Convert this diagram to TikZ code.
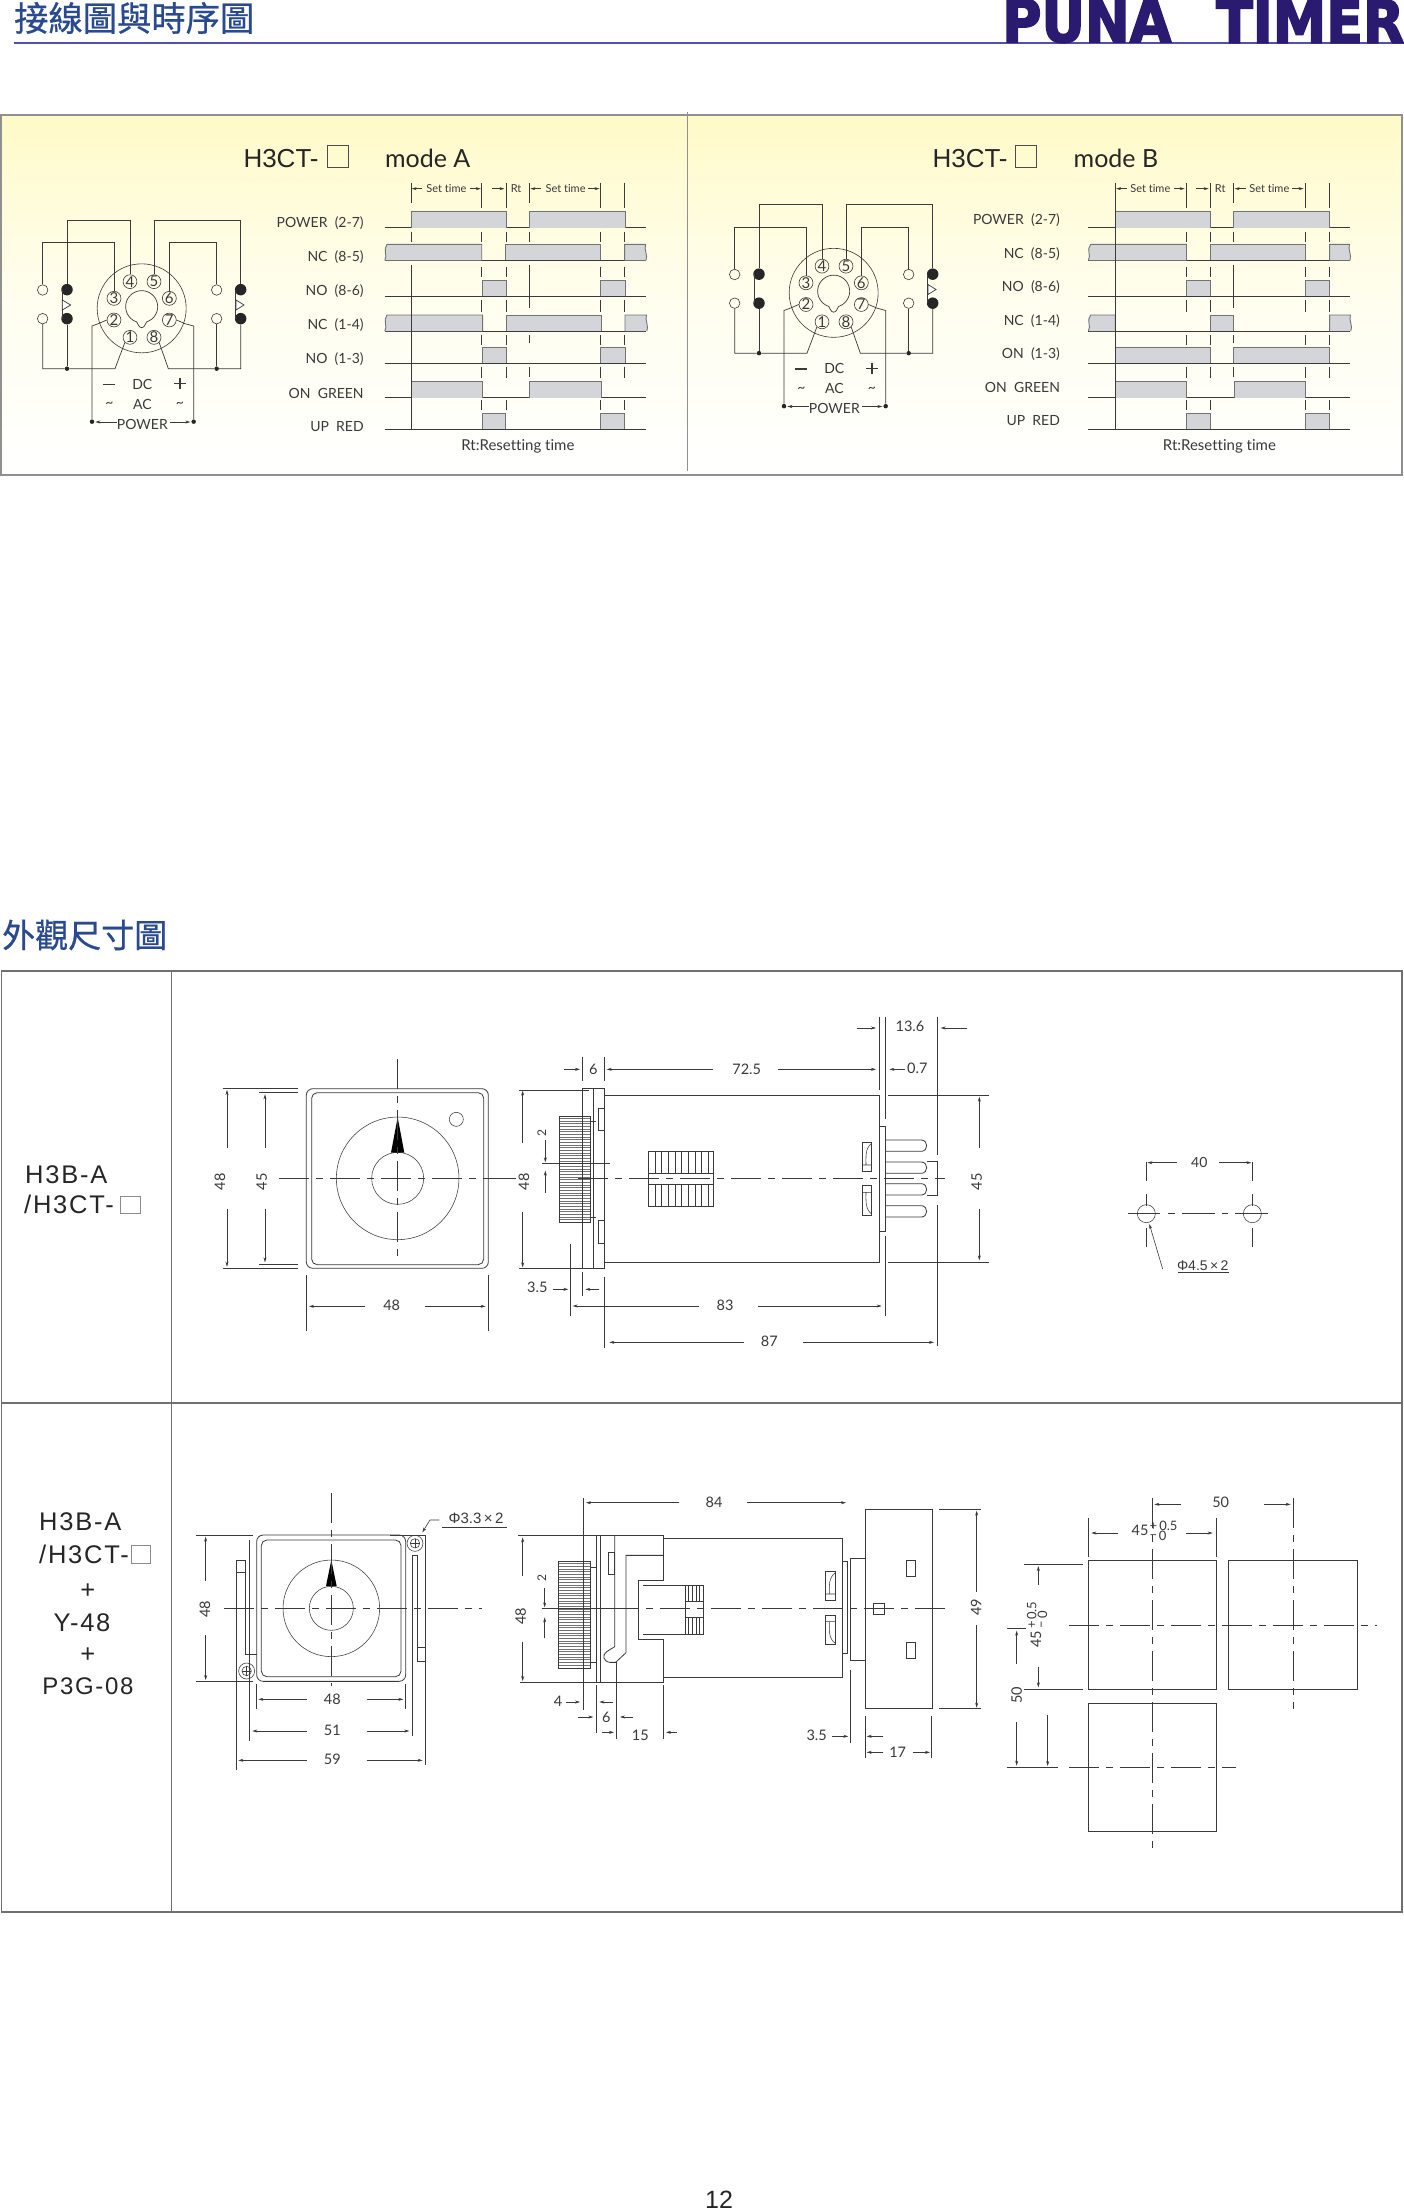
\documentclass[tikz,border=0pt]{standalone}
\usepackage{fontspec}
\usepackage{graphicx}
\usetikzlibrary{arrows.meta}
\setmainfont{Liberation Sans}
\newfontfamily\gothic[Ligatures=NoCommon]{Lato}
\newfontfamily\armsp[LetterSpace=7]{Liberation Sans}
\newfontfamily\cjk[FakeBold=.7]{Noto Sans CJK TC}
\newfontfamily\heavy[FakeBold=3]{DejaVu Sans Bold}
\definecolor{panelY}{HTML}{FFFAC8}
\definecolor{panelM}{HTML}{FFFEEE}
\definecolor{frameG}{HTML}{909090}
\definecolor{tblG}{HTML}{707070}
\definecolor{lineK}{HTML}{3A3A3A}
\definecolor{pulseF}{HTML}{D3D5D9}
\definecolor{headB}{HTML}{2A4A90}
\definecolor{ruleB}{HTML}{5050B0}
\definecolor{brandP}{HTML}{2A1A70}
\tikzset{
 zone1/.style={shift={(170,1000)},x=.33333pt,y=-.33333pt},
 zone2/.style={shift={(500,1000)},x=.33333pt,y=-.33333pt},
 zone3/.style={shift={(170,1480)},x=.33333pt,y=-.33333pt},
 zone4/.style={shift={(500,1480)},x=.33333pt,y=-.33333pt},
 zone5/.style={shift={(980,1480)},x=.33333pt,y=-.33333pt},
 zone6/.style={shift={(1110,1140)},x=.33333pt,y=-.33333pt},
 tA/.style={shift={(0,100)},x=.44643pt,y=-.33333pt},
 tB/.style={shift={(680,100)},x=.46296pt,y=-.33333pt},
 outl/.style={draw=lineK,line width=.8pt},
 thinl/.style={draw=lineK,line width=.55pt},
 ext/.style={draw=lineK,line width=.7pt},
 da/.style={draw=lineK,line width=.6pt,-{Stealth[length=5pt,width=3pt]}},
 cl/.style={draw=lineK,line width=.7pt,dash pattern=on 30pt off 7pt on 7pt off 7pt},
 dt/.style={font=\gothic\fontsize{14.5}{15}\selectfont,text=lineK,inner sep=0pt},
 dtr/.style={dt,rotate=90},
 smalltx/.style={font=\gothic\fontsize{11}{12}\selectfont,text=lineK,inner sep=0pt},
 tolx/.style={font=\gothic\fontsize{13}{13}\selectfont,text=lineK,inner sep=0pt},
 lab/.style={font=\gothic\fontsize{14}{15}\selectfont,text=lineK,inner sep=0pt,anchor=east},
 ttl/.style={font=\fontsize{26}{27}\selectfont,text=black!85,inner sep=0pt,anchor=base west},
 ttm/.style={font=\gothic\fontsize{25}{26}\selectfont,text=black!85,inner sep=0pt,anchor=base west},
 celltx/.style={font=\armsp\fontsize{25.5}{26}\selectfont,text=black!85,inner sep=0pt,anchor=base west},
 pf/.style={fill=pulseF},
 pe/.style={draw=black!55,line width=.9pt},
 basl/.style={draw=lineK,line width=.7pt},
 tickl/.style={draw=lineK,line width=.6pt},
 wire/.style={draw=lineK,line width=.7pt},
 pinn/.style={circle,draw=lineK,line width=.6pt,inner sep=0pt,minimum size=12.5pt,font=\gothic\fontsize{15}{15}\selectfont,text=lineK},
 opend/.style={circle,draw=lineK,line width=.6pt,inner sep=0pt,minimum size=10.5pt},
 filld/.style={circle,fill=black!85,inner sep=0pt,minimum size=11.5pt},
 smalld/.style={circle,fill=black!85,inner sep=0pt,minimum size=4.5pt},
 stxt/.style={font=\gothic\fontsize{14}{15}\selectfont,text=lineK,inner sep=0pt},
 rtx/.style={font=\gothic\fontsize{15}{16}\selectfont,text=lineK,inner sep=0pt},
}
% pulses: x1 x2 baseline
\newcommand\pulse[3]{\fill[pf] ({#1},{#3}) rectangle ({#2},{#3-48});\draw[pe] ({#1},{#3})--({#1},{#3-48})--({#2},{#3-48})--({#2},{#3});}
\newcommand\pulseL[3]{\fill[pf] ({#1+5},{#3-48}) .. controls ({#1-5},{#3-32}) and ({#1+7},{#3-14}) .. ({#1},{#3}) -- ({#2},{#3}) -- ({#2},{#3-48}) -- cycle;
 \draw[pe] ({#1},{#3}) .. controls ({#1+7},{#3-14}) and ({#1-5},{#3-32}) .. ({#1+5},{#3-48}) -- ({#2},{#3-48}) -- ({#2},{#3});}
\newcommand\pulseR[3]{\fill[pf] ({#1},{#3}) -- ({#2},{#3}) .. controls ({#2+5},{#3-14}) and ({#2-5},{#3-32}) .. ({#2-1},{#3-48}) -- ({#1},{#3-48}) -- cycle;
 \draw[pe] ({#1},{#3}) -- ({#1},{#3-48}) -- ({#2-1},{#3-48}) .. controls ({#2-5},{#3-32}) and ({#2+5},{#3-14}) .. ({#2},{#3});}
% socket
\newcommand\socket[3]{%
\begin{scope}[shift={(20+#1,200+#2)},x=.33333pt,y=-.33333pt]
 \node[circle,draw=lineK,line width=.6pt,minimum size=89pt,inner sep=0pt] (rim) at (365,325) {};
 \draw[wire] plot[domain=108:432,samples=50] ({365+48*cos(\x)},{320+48*sin(\x)}) .. controls (376,372) and (373,383) .. (365,383) .. controls (357,383) and (354,372) .. (350,365.6);
 \node[pinn] (p4) at (330,245) {4}; \node[pinn] (p5) at (402,245) {5};
 \node[pinn] (p3) at (282,295) {3}; \node[pinn] (p6) at (448,295) {6};
 \node[pinn] (p2) at (282,360) {2}; \node[pinn] (p7) at (448,360) {7};
 \node[pinn] (p1) at (330,412) {1}; \node[pinn] (p8) at (402,412) {8};
 \node[opend] (o1) at (68,270) {}; \node[opend] (o2) at (68,356) {};
 \node[filld] (f1) at (141,269) {}; \node[filld] (f2) at (141,356) {};
 \node[opend] (o3) at (590,270) {}; \node[opend] (o4) at (590,356) {};
 \node[filld] (f3) at (662,269) {}; \node[filld] (f4) at (662,356) {};
 \node[smalld] (j1) at (141,506) {}; \node[smalld] (j2) at (590,506) {};
 \node[smalld] (d1) at (216,665) {}; \node[smalld] (d2) at (521,665) {};
 \draw[wire] (p4.north) -- (330,60) -| (f1.north);
 \draw[wire] (f2) -- (j1);
 \draw[wire] (o1.north) -- (68,128) -| (p3.north);
 \draw[wire] (o2.south) |- (j1) -- (285,506) -- (p1.south west);
 \draw[wire] (p5.north) -- (402,60) -| (f3.north);
 \draw[wire] (f4) -- (662,506) -- (j2) -- (445,506) -- (p8.south east);
 \draw[wire] (o3.north) -- (590,128) -| (p6.north);
 \draw[wire] (o4.south) -- (j2);
 \draw[wire] (p2.west) -- (235,371) -- (216,378) -- (d1);
 \draw[wire] (p7.east) -- (495,371) -- (521,378) -- (d2);
 #3
 \draw[wire] (646,269) -- (646,356);
 \draw[wire,fill=white] (648,300) -- (672,315) -- (648,330) -- cycle;
 \node[stxt] at (367,552) {DC};
 \node[stxt] at (367,612) {AC};
 \node[stxt] at (367,672) {POWER};
 \draw[lineK,line width=1.5pt] (250,553) -- (285,553);
 \draw[lineK,line width=1.3pt] (463,551) -- (497,551) (480,534) -- (480,568);
 \node[stxt] at (268,615) {\textasciitilde};
 \node[stxt] at (480,615) {\textasciitilde};
 \draw[da] (290,666) -- (226,666);
 \draw[da] (450,666) -- (511,666);
\end{scope}}
\begin{document}
\begin{tikzpicture}[x=1pt,y=-1pt]
\useasboundingbox (0,0) rectangle (1404,2211);
\fill[white] (0,0) rectangle (1404,2211);
% header
\node[font=\cjk\fontsize{34.3}{35}\selectfont,text=headB,inner sep=0pt,anchor=west] (head1) at (14,18) {接線圖與時序圖};
\draw[ruleB,line width=1.4pt] (14,43) -- (1404,43);
\node[text=brandP,inner sep=0pt,anchor=south west] (brand1) at (1002,43) {\resizebox{169pt}{43pt}{\heavy PUNA}};
\node[text=brandP,inner sep=0pt,anchor=south west] (brand2) at (1216,43) {\resizebox{188pt}{43pt}{\heavy TIMER}};
% panel
\shade[top color=panelY,bottom color=white,middle color=panelM] (1,115) rectangle (1402,475);
\draw[frameG,line width=1.6pt] (1,115) rectangle (1402,475);
\draw[frameG,line width=1pt] (687,112) -- (687,471);
% ---- mode A timing
\begin{scope}[tA]
 \node[ttl] at (545,203) {H3CT-};
 \draw[black!70,line width=.8pt] (733,137) rectangle (780,203);
 \node[ttm] at (862,203) {mode A};
 \foreach \b in {383,481,589,693,790,893,988} \draw[basl] (862,\b) -- (1448,\b);
 \pulse{921}{1134}{383}\pulse{1187}{1400}{383}
 \pulseL{862}{1079}{481}\pulse{1132}{1345}{481}\pulseR{1399}{1447}{481}
 \pulse{1081}{1134}{589}\pulse{1346}{1400}{589}
 \pulseL{862}{1081}{693}\pulse{1134}{1347}{693}\pulseR{1400}{1449}{693}
 \pulse{1081}{1134}{790}\pulse{1346}{1400}{790}
 \pulse{921}{1081}{893}\pulse{1187}{1347}{893}
 \pulse{1080}{1133}{988}\pulse{1346}{1399}{988}
 \draw[tickl] (921,250)--(921,310) (921,395)--(921,425) (921,495)--(921,988);
 \draw[tickl] (1186,250)--(1186,310) (1186,395)--(1186,425) (1186,495)--(1186,625) (1186,705)--(1186,730) (1186,800)--(1186,832);
 \foreach \x in {1079,1133,1345,1399} \draw[tickl] (\x,250)--(\x,325) (\x,395)--(\x,425) (\x,500)--(\x,530) (\x,600)--(\x,635) (\x,705)--(\x,735) (\x,800)--(\x,835) (\x,900)--(\x,930);
 \foreach \y/\t in {370/POWER\ \ (2-7),472/NC\ \ (8-5),574/NO\ \ (8-6),676/NC\ \ (1-4),778/NO\ \ (1-3),879/ON\ \ GREEN,980/UP\ \ RED} \node[lab] at (815,\y) {\t};
 \node[smalltx] at (1000,265) {Set time};
 \node[smalltx] at (1156,265) {Rt};
 \node[smalltx] at (1267,265) {Set time};
 \draw[da] (945,266)--(922,266); \draw[da] (1052,266)--(1077,266);
 \draw[da] (1103,266)--(1130,266); \draw[da] (1212,266)--(1188,266); \draw[da] (1318,266)--(1343,266);
 \node[rtx] at (1160,1040) {Rt:Resetting time};
\end{scope}
% ---- mode B timing
\begin{scope}[tB]
 \node[ttl] at (545,203) {H3CT-};
 \draw[black!70,line width=.8pt] (725,137) rectangle (770,203);
 \node[ttm] at (850,203) {mode B};
 \foreach \b in {383,481,589,693,790,893,988} \draw[basl] (882,\b) -- (1448,\b);
 \pulse{940}{1145}{383}\pulse{1195}{1403}{383}
 \pulseL{882}{1094}{481}\pulse{1145}{1350}{481}\pulseR{1403}{1447}{481}
 \pulse{1094}{1145}{589}\pulse{1350}{1403}{589}
 \pulseL{882}{940}{693}\pulse{1145}{1195}{693}\pulseR{1403}{1449}{693}
 \pulse{940}{1145}{790}\pulse{1195}{1403}{790}
 \pulse{940}{1094}{893}\pulse{1197}{1350}{893}
 \pulse{1094}{1145}{988}\pulse{1350}{1403}{988}
 \draw[tickl] (940,250)--(940,988);
 \draw[tickl] (1195,250)--(1195,310) (1195,395)--(1195,425) (1195,495)--(1195,625) (1195,705)--(1195,730) (1195,800)--(1195,832);
 \foreach \x in {1094,1145,1350,1403} \draw[tickl] (\x,250)--(\x,325) (\x,395)--(\x,425) (\x,500)--(\x,530) (\x,600)--(\x,635) (\x,705)--(\x,735) (\x,800)--(\x,835) (\x,900)--(\x,930);
 \foreach \y/\t in {359/POWER\ \ (2-7),461/NC\ \ (8-5),561/NO\ \ (8-6),662/NC\ \ (1-4),763/ON\ \ (1-3),862/ON\ \ GREEN,963/UP\ \ RED} \node[lab] at (821,\y) {\t};
 \node[smalltx] at (1016,265) {Set time};
 \node[smalltx] at (1167,265) {Rt};
 \node[smalltx] at (1273,265) {Set time};
 \draw[da] (965,266)--(942,266); \draw[da] (1067,266)--(1090,266);
 \draw[da] (1115,266)--(1142,266); \draw[da] (1222,266)--(1198,266); \draw[da] (1322,266)--(1347,266);
 \node[rtx] at (1165,1040) {Rt:Resetting time};
\end{scope}
% sockets
\socket{0}{0}{\draw[wire] (126,269) -- (126,356); \draw[wire,fill=white] (127,300) -- (152,315) -- (127,330) -- cycle;}
\socket{692}{-15.5}{\draw[wire] (126,269) -- (126,356);}
% second heading
\node[font=\cjk\fontsize{33}{34}\selectfont,text=headB,inner sep=0pt,anchor=west] (head2) at (2,935) {外觀尺寸圖};
% table
\draw[tblG,line width=1.3pt] (1.5,971) rectangle (1402,1912);
\draw[tblG,line width=1.1pt] (171.5,971) -- (171.5,1912);
\draw[tblG,line width=1.1pt] (1.5,1403) -- (1402,1403);
% left column
\node[celltx] at (25,1183) {H3B-A};
\node[celltx] at (24,1213) {/H3CT-};
\draw[black!45,line width=1pt] (120.7,1196) rectangle (140,1213);
\node[celltx] at (39,1530) {H3B-A};
\node[celltx] at (39,1563) {/H3CT-};
\draw[black!45,line width=1pt] (131.7,1545) rectangle (150.7,1563);
\node[celltx,anchor=base] at (87.7,1598) {+};
\node[celltx,anchor=base] at (82,1631) {Y-48};
\node[celltx,anchor=base] at (87.7,1662) {+};
\node[celltx,anchor=base,font=\armsp\fontsize{24}{25}\selectfont] at (88,1694) {P3G-08};
% ---- top row, front view
\begin{scope}[zone1]
 \draw[outl,rounded corners=6.5pt] (409,266) rectangle (955,805);
 \draw[outl,rounded corners=5.5pt] (425,278) rectangle (941,794);
 \draw[thinl] (683,535) circle[radius=61.3pt];
 \draw[thinl] (683,535) circle[radius=26pt];
 \draw[thinl] (859,358) circle[radius=7pt];
 \fill[black] (683,352) -- (703,458) -- (663,458) -- cycle;
 \draw[cl] (328,535) -- (1040,535);
 \draw[cl] (683,178) -- (683,780);
 \draw[ext] (158,266)--(385,266) (158,805)--(385,805) (267,278)--(385,278) (267,792)--(385,792);
 \draw[da] (171,443)--(171,270); \draw[da] (171,628)--(171,800);
 \draw[da] (285,443)--(285,283); \draw[da] (285,628)--(285,787);
 \node[dtr] at (150,545) {48}; \node[dtr] at (275,545) {45};
 \draw[ext] (409,826)--(409,992) (955,826)--(955,992);
 \draw[da] (586,919)--(417,919); \draw[da] (765,919)--(947,919);
 \node[dt] at (665,917) {48};
\end{scope}
% ---- top row, side view
\begin{scope}[zone2]
 \foreach \y in {355,363,...,665} \draw[black!55,line width=.45pt] (178,\y)--(272,\y);
 \draw[outl] (178,349) rectangle (272,668);
 \draw[outl] (247,266) rectangle (313,804);
 \draw[outl] (280,266)--(280,804);
 \draw[outl] (313,285) rectangle (1137,786);
 \draw[outl] (1137,379)--(1157,379)--(1157,693)--(1137,693);
 \draw[outl] (295,325) rectangle (313,392);
 \draw[outl] (295,662) rectangle (313,730);
 \draw[thinl] (272,365)--(288,365) (272,652)--(288,652);
 \foreach \y in {420,486,551,617} \draw[outl] (1157,\y) -- (1265,\y) .. controls (1285,\y+2) and (1285,\y+32) .. (1265,\y+34) -- (1157,\y+34);
 \draw[outl] (1280,484)--(1313,484)--(1313,585)--(1280,585);
 \draw[outl] (445,454) rectangle (641,618);
 \draw[outl] (445,520)--(641,520) (445,552)--(641,552);
 \foreach \x in {465,485,...,625} \draw[thinl] (\x,454)--(\x,520) (\x,552)--(\x,618);
 \draw[outl] (1087,426) rectangle (1115,514);
 \draw[thinl] (1087,495)--(1115,495) (1115,430) .. controls (1095,445) and (1098,470) .. (1098,495);
 \draw[outl] (1087,557) rectangle (1115,646);
 \draw[thinl] (1087,577)--(1115,577) (1115,642) .. controls (1095,627) and (1098,600) .. (1098,577);
 \draw[cl] (235,535) -- (1335,535);
 % dims
 \draw[ext] (1137,50)--(1137,270) (1157,50)--(1157,358) (1313,50)--(1313,465);
 \draw[da] (1072,84)--(1128,84); \draw[da] (1402,84)--(1322,84);
 \node[dt] at (1230,80) {13.6};
 \draw[ext] (247,172)--(247,242) (313,172)--(313,242);
 \draw[da] (192,208)--(240,208); \draw[da] (638,208)--(320,208); \draw[da] (835,208)--(1128,208);
 \node[dt] at (280,207) {6}; \node[dt] at (740,207) {72.5};
 \draw[da] (1215,208)--(1168,208); \node[dt] at (1252,205) {0.7};
 \draw[ext] (1165,285)--(1468,285) (1165,786)--(1468,786);
 \draw[da] (1438,443)--(1438,290); \draw[da] (1438,628)--(1438,781);
 \node[dtr] at (1430,545) {45};
 \draw[ext] (127,490)--(330,490);
 \node[dtr,font=\gothic\fontsize{12}{12}\selectfont] at (125,400) {2};
 \draw[da] (136,420)--(136,487); \draw[da] (136,580)--(136,512);
 \draw[ext] (211,733)--(211,948) (247,815)--(247,887);
 \draw[da] (160,868)--(205,868); \draw[da] (298,868)--(256,868);
 \node[dt] at (112,862) {3.5};
 \draw[ext] (1157,708)--(1157,948);
 \draw[da] (597,918)--(218,918); \draw[da] (775,918)--(1145,918);
 \node[dt] at (675,917) {83};
 \draw[ext] (313,830)--(313,1045) (1313,615)--(1313,1038);
 \draw[da] (732,1027)--(328,1027); \draw[da] (910,1027)--(1302,1027);
 \node[dt] at (808,1025) {87};
 \draw[ext] (57,270)--(267,270) (57,804)--(260,804);
 \draw[da] (68,428)--(68,272); \draw[da] (68,637)--(68,802);
 \draw[ext] (-22,535)--(48,535);
 \node[dtr] at (72,545) {48};
\end{scope}
% ---- top row, mounting holes
\begin{scope}[zone6]
 \draw[ext] (109,65)--(109,122) (427,65)--(427,122);
 \draw[da] (200,68)--(112,68); \draw[da] (327,68)--(424,68);
 \node[dt,font=\gothic\fontsize{14}{14}\selectfont] at (268,68) {40};
 \draw[thinl] (109,221) circle[radius=9pt]; \draw[thinl] (427,221) circle[radius=9pt];
 \draw[ext] (109,163)--(109,197) (109,265)--(109,322) (427,163)--(427,197) (427,265)--(427,322);
 \draw[ext] (55,221)--(150,221) (175,221)--(195,221) (215,221)--(315,221) (335,221)--(355,221) (375,221)--(475,221);
 \draw[da] (158,387)--(118,252);
 \node[dt,font=\fontsize{14}{14}\selectfont] at (278,378) {Φ4.5\,×\,2};
 \draw[ext] (205,397)--(358,397);
\end{scope}
% ---- bottom row, front view
\begin{scope}[zone3]
 \draw[outl,rounded corners=6.5pt] (260,165) rectangle (707,604);
 \draw[outl,rounded corners=5.5pt] (274,180) rectangle (693,590);
 \draw[thinl] (484,385) circle[radius=48.3pt];
 \draw[thinl] (484,385) circle[radius=22pt];
 \fill[black] (484,240) -- (500,318) -- (468,318) -- cycle;
 \draw[cl] (162,385) -- (935,385);
 \draw[cl] (484,40) -- (484,618);
 \draw[outl] (199,241)--(226,241)--(226,524)--(260,524);
 \draw[outl] (199,276)--(226,276);
 \draw[ext] (199,241)--(199,870);
 \draw[ext] (239,180)--(239,782);
 \draw[outl] (743,226)--(727,226);
 \draw[outl] (743,226)--(743,543)--(766,543);
 \draw[outl] (743,503)--(766,503);
 \draw[ext] (727,226)--(727,768);
 \draw[ext] (766,165)--(766,855);
 \draw[ext] (660,165)--(766,165);
 \foreach \c in {(735,190),(230,573)} {
  \draw[thinl] \c circle[radius=8pt]; \draw[thinl] \c circle[radius=4.7pt];
  \draw[thinl] \c ++(-14,0) -- ++(28,0); \draw[thinl] \c ++(0,-14) -- ++(0,28);
 }
 \draw[da] (808,120)--(780,120)--(757,157);
 \node[dt,font=\fontsize{15}{15}\selectfont] at (918,115) {Φ3.3\,×\,2};
 \draw[ext] (817,142)--(1012,142);
 \draw[ext] (78,165)--(248,165) (78,604)--(248,604);
 \draw[da] (107,303)--(107,170); \draw[da] (107,465)--(107,600);
 \node[dtr] at (105,388) {48};
 \draw[ext] (260,612)--(260,688) (707,612)--(707,688);
 \draw[da] (410,658)--(265,658); \draw[da] (590,658)--(700,658); \node[dt] at (487,657) {48};
 \draw[da] (410,753)--(247,753); \draw[da] (590,753)--(718,753); \node[dt] at (487,752) {51};
 \draw[da] (410,841)--(205,841); \draw[da] (590,841)--(758,841); \node[dt] at (487,838) {59};
\end{scope}
% ---- bottom row, side view
\begin{scope}[zone4]
 \foreach \y in {251,259,...,561} \draw[black!55,line width=.45pt] (175,\y)--(272,\y);
 \draw[outl] (175,245) rectangle (272,565);
 \draw[outl] (55,166)--(490,166)--(490,302)--(416,302)--(416,477)--(490,477)--(490,608)--(60,608);
 \draw[outl] (289,166)--(289,608) (302,166)--(302,608);
 \draw[thinl] (272,262)--(289,262) (272,548)--(289,548);
 \draw[outl] (344,166)--(344,500) -- (320,515) .. controls (305,525) and (310,545) .. (330,547) -- (347,547) -- (378,518) -- (378,226) -- (490,226);
 \draw[outl] (325,218) rectangle (344,283);
 \draw[outl] (490,176)--(1027,176)--(1027,592)--(490,592);
 \draw[outl] (430,316)--(611,316)--(611,464)--(430,464);
 \draw[outl] (555,316)--(555,464);
 \foreach \x in {566,577,588,599} \draw[thinl] (\x,316)--(\x,365) (\x,413)--(\x,464);
 \draw[outl,fill=white] (555,365) rectangle (610,413);
 \draw[outl] (977,274) rectangle (1006,361);
 \draw[thinl] (977,342)--(1006,342) (1006,278) .. controls (985,293) and (988,320) .. (988,342);
 \draw[outl] (977,406) rectangle (1006,494);
 \draw[thinl] (977,425)--(1006,425) (1006,490) .. controls (985,475) and (988,450) .. (988,425);
 \draw[outl] (1027,243) rectangle (1043,521);
 \draw[outl] (1052,234) rectangle (1095,541);
 \draw[outl] (1095,89) rectangle (1297,686);
 \draw[outl] (1218,241) rectangle (1245,289);
 \draw[outl] (1218,487) rectangle (1245,536);
 \draw[outl] (1120,371) rectangle (1153,403);
 \draw[cl] (175,386) -- (1355,386);
 % dims
 \draw[ext] (250,55)--(250,690);
 \draw[da] (537,68)--(258,68); \draw[da] (741,68)--(1038,68);
 \node[dt] at (642,66) {84};
 \draw[da] (68,288)--(68,172); \draw[da] (68,485)--(68,603);
 \node[dtr] at (62,408) {48};
 \node[dtr,font=\gothic\fontsize{12}{12}\selectfont] at (125,295) {2};
 \draw[ext] (125,385)--(330,385);
 \draw[da] (134,325)--(134,382); \draw[da] (134,475)--(134,412);
 \node[dt] at (174,665) {4};
 \draw[da] (198,666)--(240,666); \draw[da] (340,666)--(298,666);
 \draw[ext] (289,615)--(289,760);
 \node[dt] at (319,712) {6};
 \draw[da] (235,711)--(280,711); \draw[da] (400,711)--(360,711);
 \draw[ext] (348,545)--(348,778);
 \node[dt] at (421,765) {15};
 \draw[da] (305,757)--(342,757); \draw[da] (530,757)--(498,757);
 \draw[ext] (490,615)--(490,778);
 \node[dt] at (950,765) {3.5};
 \draw[da] (995,769)--(1045,769); \draw[da] (1150,769)--(1100,769);
 \draw[ext] (1052,570)--(1052,790) (1095,708)--(1095,835) (1295,708)--(1295,835);
 \node[dt] at (1193,817) {17};
 \draw[da] (1150,817)--(1100,817); \draw[da] (1240,817)--(1290,817);
 \draw[ext] (1317,89)--(1442,89) (1317,686)--(1442,686);
 \draw[da] (1430,335)--(1430,92); \draw[da] (1430,435)--(1430,683);
 \node[dtr] at (1428,382) {49};
\end{scope}
% ---- panel cut-out
\begin{scope}[zone5]
 \draw[outl] (324,242) rectangle (710,628);
 \draw[outl] (746,242) rectangle (1133,628);
 \draw[outl] (324,670) rectangle (710,1055);
 \draw[cl] (517,55) -- (517,1112);
 \draw[cl] (939,55) -- (939,687);
 \draw[cl] (267,435) -- (1190,435);
 \draw[cl] (267,862) -- (768,862);
 \draw[da] (602,73)--(523,73); \draw[da] (852,73)--(932,73);
 \node[dt] at (722,67) {50};
 \draw[ext] (324,115)--(324,230) (710,115)--(710,230);
 \draw[da] (414,159)--(334,159); \draw[da] (618,159)--(698,159);
 \node[dt] at (480,150) {45};
 \node[tolx] at (520,141) {+}; \node[tolx] at (565,138) {0.5};
 \node[tolx] at (520,172) {−}; \node[tolx] at (548,168) {0};
 \draw[ext] (133,252)--(310,252) (133,628)--(310,628);
 \draw[da] (175,316)--(175,258); \draw[da] (175,560)--(175,622);
 \node[dtr] at (168,477) {45};
 \node[tolx,rotate=90] at (157,435) {+}; \node[tolx,rotate=90] at (155,392) {0.5};
 \node[tolx,rotate=90] at (190,435) {−}; \node[tolx,rotate=90] at (187,405) {0};
 \draw[ext] (82,445)--(137,445) (80,862)--(233,862);
 \draw[da] (110,552)--(110,452); \draw[da] (110,727)--(110,857);
 \node[dtr] at (110,645) {50};
 \draw[da] (203,706)--(203,858);
\end{scope}
\node[font=\fontsize{25}{26}\selectfont,text=black!85,inner sep=0pt,anchor=base] (pageno) at (719,2208) {12};
\end{tikzpicture}
\end{document}
